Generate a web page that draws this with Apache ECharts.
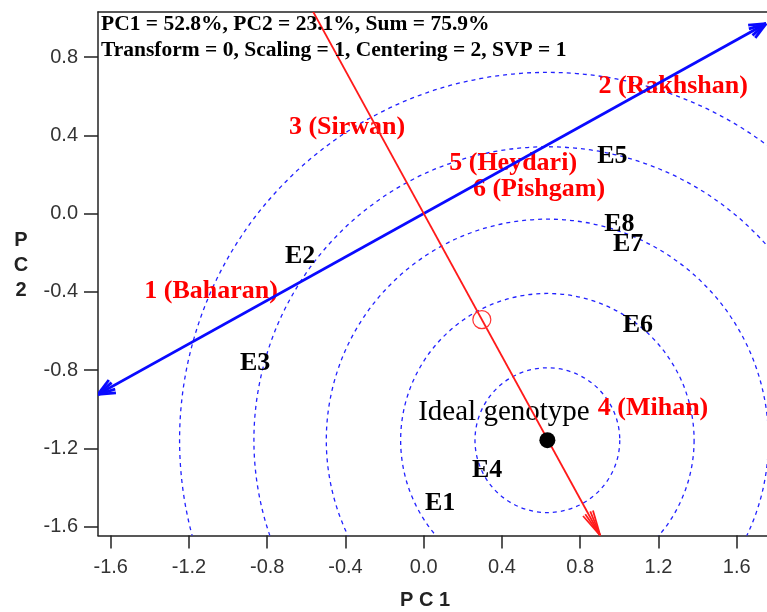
<!DOCTYPE html>
<html>
<head>
<meta charset="utf-8">
<script src="https://cdn.jsdelivr.net/npm/echarts@6/dist/echarts.min.js"></script>
<style>
  html, body { margin: 0; padding: 0; background: #fff; }
  #chart { width: 767px; height: 612px; }
</style>
</head>
<body>
<div id="chart"></div>
<script>
// tick labels
var xTicks = [-1.6, -1.2, -0.8, -0.4, 0, 0.4, 0.8, 1.2, 1.6];
var yTicks = [-1.6, -1.2, -0.8, -0.4, 0, 0.4, 0.8];

// genotypes (red) and environments (black)
var genotypes = ['1 (Baharan)', '2 (Rakhshan)', '3 (Sirwan)', '4 (Mihan)', '5 (Heydari)', '6 (Pishgam)'];
var genoX = [-1.087, 1.275, -0.392, 1.172, 0.457, 0.589];
var genoY = [-0.397, 0.650, 0.441, -0.995, 0.257, 0.124];

var envs = ['E1', 'E2', 'E3', 'E4', 'E5', 'E6', 'E7', 'E8'];
var envX = [0.084, -0.632, -0.862, 0.324, 0.964, 1.095, 1.045, 1.000];
var envY = [-1.480, -0.218, -0.765, -1.311, 0.292, -0.571, -0.157, -0.055];

var ideal = [0.632, -1.158];
var avgEnv = [0.297, -0.542];
var ringRadii = [0.37, 0.75, 1.13, 1.50, 1.88];

// axis lines through the origin: [x0, y0, x1, y1, arrow at start, arrow at end]
var blueAxis = [-1.665, -0.924, 1.75, 0.971, 1, 1];
var redAxis = [-0.57, 1.04, 0.902, -1.645, 0, 1];

var chart = echarts.init(document.getElementById('chart'));

function wing(tip, from, len, ang) {
  var dx = from[0] - tip[0], dy = from[1] - tip[1];
  var d = Math.sqrt(dx * dx + dy * dy);
  var ux = dx / d, uy = dy / d;
  var c = Math.cos(ang), s = Math.sin(ang);
  return [tip[0] + len * (ux * c - uy * s), tip[1] + len * (ux * s + uy * c)];
}

function arrowLine(color, width, headLen, headAng) {
  return function (params, api) {
    var p0 = api.coord([api.value(0), api.value(1)]);
    var p1 = api.coord([api.value(2), api.value(3)]);
    var st = { stroke: color, lineWidth: width, fill: null };
    var kids = [{ type: 'line', shape: { x1: p0[0], y1: p0[1], x2: p1[0], y2: p1[1] }, style: st }];
    var heads = [];
    if (api.value(4)) heads.push([p0, p1]);
    if (api.value(5)) heads.push([p1, p0]);
    heads.forEach(function (h) {
      [headAng, -headAng, headAng / 2, -headAng / 2].forEach(function (a) {
        var w = wing(h[0], h[1], headLen, a);
        kids.push({ type: 'line', shape: { x1: h[0][0], y1: h[0][1], x2: w[0], y2: w[1] }, style: st });
      });
    });
    return { type: 'group', children: kids };
  };
}

var labelFont = { fontFamily: 'Liberation Serif', fontWeight: 'bold', fontSize: 26, textBorderWidth: 0 };
var hidden = { color: 'transparent', opacity: 1 };

var option = {
  animation: false,
  grid: { left: 98, top: 12, width: 690, height: 523.5, outerBoundsMode: 'none' },
  xAxis: [{
    type: 'value', min: -1.665, max: 1.862,
    axisLine: { show: true, onZero: false, lineStyle: { color: '#222', width: 1.5 } },
    axisTick: { show: true, length: 13, customValues: xTicks, lineStyle: { color: '#222', width: 1.5 } },
    axisLabel: {
      customValues: xTicks, margin: 22, color: '#333', fontSize: 20, fontFamily: 'Liberation Sans',
      formatter: function (v) { return v.toFixed(1); }
    },
    splitLine: { show: false }
  }, {
    type: 'value', position: 'top', min: -1.665, max: 1.862,
    axisLine: { show: true, onZero: false, lineStyle: { color: '#222', width: 1.5 } },
    axisTick: { show: false }, axisLabel: { show: false }, splitLine: { show: false }
  }],
  yAxis: {
    type: 'value', min: -1.645, max: 1.030,
    axisLine: { show: true, onZero: false, lineStyle: { color: '#222', width: 1.5 } },
    axisTick: { show: true, length: 14, customValues: yTicks, lineStyle: { color: '#222', width: 1.5 } },
    axisLabel: {
      customValues: yTicks, margin: 20, color: '#333', fontSize: 20, fontFamily: 'Liberation Sans',
      formatter: function (v) { return v.toFixed(1); }
    },
    splitLine: { show: false }
  },
  graphic: [
    { type: 'text', left: 101, top: 13, z: 100,
      style: { text: 'PC1 = 52.8%, PC2 = 23.1%, Sum = 75.9%', font: 'bold 21.5px "Liberation Serif"', fill: '#000' } },
    { type: 'text', left: 101, top: 39, z: 100,
      style: { text: 'Transform = 0, Scaling = 1, Centering = 2, SVP = 1', font: 'bold 21.5px "Liberation Serif"', fill: '#000' } },
    { type: 'text', x: 425, y: 600, z: 100,
      style: { text: 'P C 1', font: 'bold 20px "Liberation Sans"', fill: '#222', textAlign: 'center', textVerticalAlign: 'middle' } },
    { type: 'text', x: 21, y: 265, z: 100,
      style: { text: 'P\nC\n2', font: 'bold 20px "Liberation Sans"', lineHeight: 25, fill: '#222', textAlign: 'center', textVerticalAlign: 'middle' } }
  ],
  series: [
    {
      type: 'custom', clip: true, z: 1,
      data: ringRadii.map(function (r) { return [ideal[0], ideal[1], r]; }),
      renderItem: function (params, api) {
        var c = api.coord([api.value(0), api.value(1)]);
        var r = api.size([api.value(2), 0])[0];
        return { type: 'circle', shape: { cx: c[0], cy: c[1], r: r },
          style: { fill: null, stroke: '#2222ff', lineWidth: 1.3, lineDash: [4, 4] } };
      }
    },
    {
      type: 'scatter', z: 3, symbolSize: 1, itemStyle: hidden,
      data: genotypes.map(function (n, i) { return { name: n, value: [genoX[i], genoY[i]] }; }),
      label: Object.assign({ show: true, position: 'inside', formatter: '{b}', color: '#ff0000' }, labelFont)
    },
    {
      type: 'scatter', z: 3, symbolSize: 1, itemStyle: hidden,
      data: envs.map(function (n, i) { return { name: n, value: [envX[i], envY[i]] }; }),
      label: Object.assign({ show: true, position: 'inside', formatter: '{b}', color: '#000' }, labelFont)
    },
    {
      type: 'scatter', z: 3, symbolSize: 1, itemStyle: hidden,
      data: [{ name: 'Ideal genotype', value: [0.41, -1.015] }],
      label: { show: true, position: 'inside', formatter: '{b}', color: '#000', textBorderWidth: 0,
        fontFamily: 'Liberation Serif', fontSize: 29 }
    },
    {
      type: 'custom', clip: true, z: 4,
      data: [blueAxis],
      renderItem: arrowLine('#0a0aff', 2.8, 18, 0.42)
    },
    {
      type: 'custom', clip: true, z: 4,
      data: [redAxis],
      renderItem: arrowLine('#ff1a1a', 1.8, 26, 0.22)
    },
    {
      type: 'scatter', z: 5, symbol: 'circle', symbolSize: 18,
      itemStyle: { color: 'transparent', borderColor: '#ff3333', borderWidth: 1.2, opacity: 1 },
      data: [avgEnv]
    },
    {
      type: 'scatter', z: 5, symbol: 'circle', symbolSize: 16,
      itemStyle: { color: '#000', opacity: 1 },
      data: [ideal]
    }
  ]
};

chart.setOption(option);
</script>
</body>
</html>
